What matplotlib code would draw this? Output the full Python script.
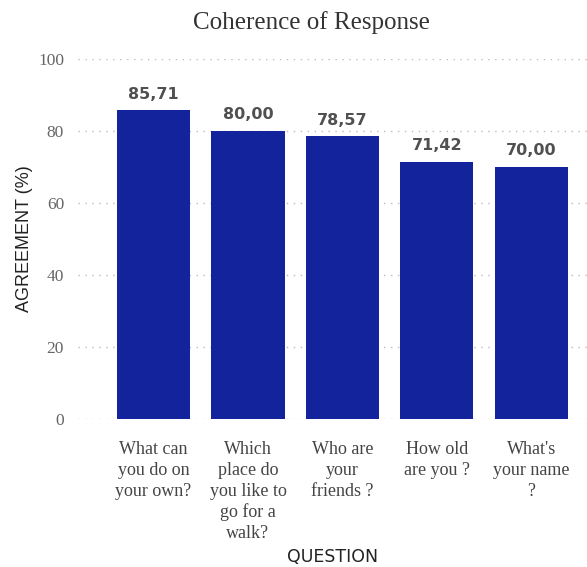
import matplotlib.pyplot as plt

questions = [
    "What can\nyou do on\nyour own?",
    "Which\nplace do\nyou like to\ngo for a\nwalk?",
    "Who are\nyour\nfriends ?",
    "How old\nare you ?",
    "What's\nyour name\n?",
]
agreement = [85.71, 80.00, 78.57, 71.42, 70.00]
yticks = [0, 20, 40, 60, 80, 100]

BAR_COLOR = "#12239b"
SERIF = ["Liberation Serif", "DejaVu Serif"]

fig = plt.figure(figsize=(5.87, 5.67), dpi=100)
ax = fig.add_axes([78 / 587, 1 - 419 / 567, 509 / 587, 360 / 567])

x = list(range(len(questions)))
ax.bar(x, agreement, width=0.775, color=BAR_COLOR, zorder=2)

for xi, v in zip(x, agreement):
    ax.text(xi, v + 2.4, f"{v:.2f}".replace(".", ","), ha="center", va="bottom",
            fontsize=11.5, fontweight="bold", color="#505050", family="DejaVu Sans")

ax.set_xlim(-0.8, 4.59)
ax.set_ylim(0, 100)
ax.set_yticks(yticks)
ax.set_yticklabels([str(t) for t in yticks], family=SERIF, fontsize=12.5, color="#666666")
ax.set_xticks(x)
ax.set_xticklabels(questions, family=SERIF, fontsize=13, color="#444444", linespacing=1.28)
ax.tick_params(axis="both", length=0)
ax.tick_params(axis="y", pad=10)
ax.tick_params(axis="x", pad=16)

ax.grid(axis="y", linestyle=(0, (1, 4)), color="#bbbbbb", linewidth=1, zorder=0)
for s in ax.spines.values():
    s.set_visible(False)

ax.set_ylabel("AGREEMENT (%)", family="Liberation Sans", fontsize=13, color="#222222", labelpad=4)
ax.set_xlabel("QUESTION", fontsize=12.5, color="#222222", labelpad=4.5)

fig.text(311 / 587, 1 - 23 / 567, "Coherence of Response", ha="center", va="center",
         family=SERIF, fontsize=18, color="#333333")

fig.savefig("out.png", dpi=100)
